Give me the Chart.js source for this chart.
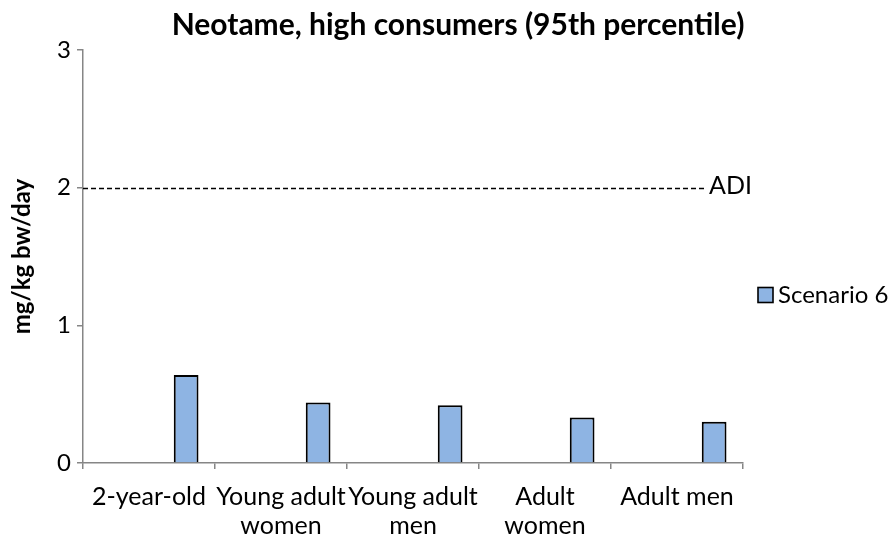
<!DOCTYPE html>
<html>
<head>
<meta charset="utf-8">
<script src="https://cdn.jsdelivr.net/npm/chart.js@4/dist/chart.umd.min.js"></script>
<style>
  html, body { margin: 0; padding: 0; background: #fff; }
  #wrap { width: 895px; height: 541px; position: relative; }
</style>
</head>
<body>
<div id="wrap"><canvas id="c"></canvas></div>
<script>
// 네오탐 고섭취자(95분위) 노출량 — 시나리오 6 막대 + ADI 기준선
const groups = ['2-year-old', ['Young adult', 'women'], ['Young adult', 'men'], ['Adult', 'women'], 'Adult men'];
const scenario6 = [0.64, 0.44, 0.42, 0.33, 0.30];
const adiValue = 2;
const yTicks = [0, 1, 2, 3];
const chartTitle = 'Neotame, high consumers (95th percentile)';
const yTitle = 'mg/kg bw/day';

const FONT = 'Lato, "Open Sans", sans-serif';
const AXIS = '#868686';
const BAR = '#8EB4E3';

// 엑셀 묶은 세로막대처럼 빈 계열 3개 자리를 비워 둔다
const blank = groups.map(() => null);

const overlay = {
  id: 'overlay',
  afterDatasetsDraw(chart) {
    const { ctx, chartArea: a, scales: { y } } = chart;
    ctx.save();
    // ADI 점선
    const yy = Math.round(y.getPixelForValue(adiValue)) + 0.5;
    ctx.strokeStyle = '#000';
    ctx.lineWidth = 1.3;
    ctx.setLineDash([5, 3]);
    ctx.beginPath();
    ctx.moveTo(a.left, yy);
    ctx.lineTo(706, yy);
    ctx.stroke();
    ctx.setLineDash([]);
    ctx.fillStyle = '#000';
    ctx.font = '25px ' + FONT;
    ctx.textBaseline = 'middle';
    ctx.textAlign = 'left';
    ctx.fillText('ADI', 709, yy - 3);

    // 제목
    ctx.font = 'bold 30px ' + FONT;
    ctx.textAlign = 'center';
    ctx.fillText(chartTitle, 458, 25);

    // 범례 (라벨 있는 계열만)
    const ds = chart.data.datasets.filter(d => d.label);
    ctx.font = '24px ' + FONT;
    ctx.textAlign = 'left';
    ds.forEach((d, i) => {
      const cy = 295 + i * 28;
      ctx.fillStyle = d.backgroundColor;
      ctx.fillRect(758, cy - 7.5, 15, 15);
      ctx.strokeStyle = d.borderColor;
      ctx.lineWidth = 1.6;
      ctx.strokeRect(758, cy - 7.5, 15, 15);
      ctx.fillStyle = '#000';
      ctx.fillText(d.label, 778, cy);
    });
    ctx.restore();
  }
};

new Chart(document.getElementById('c'), {
  type: 'bar',
  data: {
    labels: groups,
    datasets: [
      { label: '', data: blank },
      { label: '', data: blank },
      { label: '', data: blank },
      {
        label: 'Scenario 6',
        data: scenario6,
        backgroundColor: BAR,
        borderColor: '#000',
        borderWidth: 2
      }
    ]
  },
  options: {
    responsive: true,
    maintainAspectRatio: false,
    animation: false,
    events: [],
    datasets: { bar: { categoryPercentage: 0.75, barPercentage: 1 } },
    layout: { padding: { top: 50, right: 152, bottom: 0, left: 0 } },
    plugins: { legend: { display: false }, title: { display: false }, tooltip: { enabled: false } },
    scales: {
      x: {
        grid: { offset: true, drawOnChartArea: false, tickLength: 6, color: AXIS, lineWidth: 1.5 },
        border: { color: AXIS, width: 1.5 },
        ticks: { color: '#000', font: { family: FONT, size: 25, lineHeight: 1.15 }, padding: 14, maxRotation: 0, autoSkip: false },
        afterFit(s) { s.height = 78; }
      },
      y: {
        min: 0,
        max: 3,
        afterBuildTicks(s) { s.ticks = yTicks.map(v => ({ value: v })); },
        grid: { drawOnChartArea: false, tickLength: 6, color: AXIS, lineWidth: 1.5 },
        border: { color: AXIS, width: 1.5 },
        ticks: { color: '#000', font: { family: FONT, size: 24 }, padding: 6 },
        title: { display: true, text: yTitle, color: '#000', font: { family: FONT, size: 24, weight: 'bold' }, padding: { top: 8, bottom: 0 } },
        afterFit(s) { s.width = 83; }
      }
    }
  },
  plugins: [overlay]
});
</script>
</body>
</html>
